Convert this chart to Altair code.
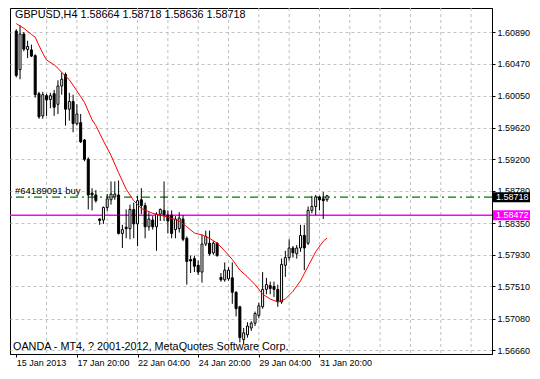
import altair as alt
import pandas as pd

# ---------------- data ----------------
bar_idx = list(range(83))
opens = [1.60907, 1.60394, 1.60868, 1.60663, 1.60657, 1.60580, 1.60074, 1.59779, 1.60048, 1.59997,
         1.60074, 1.59933, 1.60176, 1.60330, 1.59868, 1.59971, 1.59676, 1.59689, 1.59458, 1.59202,
         1.58753, 1.58727, 1.58407, 1.58394, 1.58561, 1.58663, 1.58702, 1.58727, 1.58215, 1.58298,
         1.58279, 1.58535, 1.58343, 1.58663, 1.58586, 1.58304, 1.58394, 1.58304, 1.58471, 1.58522,
         1.58458, 1.58458, 1.58266, 1.58279, 1.58407, 1.58151, 1.57868, 1.57881, 1.57792, 1.57702,
         1.58074, 1.58086, 1.57958, 1.58086, 1.57631, 1.57599, 1.57612, 1.57625, 1.57433, 1.57240,
         1.56804, 1.56868, 1.56958, 1.57022, 1.57125, 1.57240, 1.57471, 1.57522, 1.57510, 1.57471,
         1.57305, 1.57792, 1.57894, 1.58022, 1.57945, 1.58022, 1.58189, 1.58086, 1.58522, 1.58574,
         1.58702, 1.58676, 1.58664]
highs = [1.60932, 1.60984, 1.60894, 1.60779, 1.60727, 1.60599, 1.60099, 1.60099, 1.60074, 1.60086,
         1.60125, 1.60253, 1.60356, 1.60356, 1.60086, 1.60061, 1.59933, 1.59804, 1.59471, 1.59227,
         1.58817, 1.58792, 1.58420, 1.58574, 1.58740, 1.58907, 1.58907, 1.58920, 1.58330, 1.58535,
         1.58599, 1.58625, 1.58715, 1.58817, 1.58625, 1.58497, 1.58446, 1.58497, 1.58548, 1.58907,
         1.58522, 1.58522, 1.58446, 1.58497, 1.58458, 1.58176, 1.57920, 1.57920, 1.57856, 1.58202,
         1.58253, 1.58253, 1.58112, 1.58099, 1.57689, 1.57830, 1.57766, 1.57830, 1.57445, 1.57253,
         1.56958, 1.57035, 1.57048, 1.57176, 1.57292, 1.57702, 1.57625, 1.57574, 1.57574, 1.57535,
         1.57881, 1.57984, 1.58138, 1.58048, 1.58061, 1.58330, 1.58330, 1.58574, 1.58715, 1.58727,
         1.58715, 1.58766, 1.58718]
lows = [1.60291, 1.60266, 1.60638, 1.60548, 1.60561, 1.60022, 1.59740, 1.59740, 1.59779, 1.59881,
        1.59779, 1.59804, 1.60061, 1.59650, 1.59715, 1.59561, 1.59650, 1.59420, 1.59176, 1.58535,
        1.58522, 1.58625, 1.58330, 1.58343, 1.58510, 1.58599, 1.58663, 1.58202, 1.58022, 1.58151,
        1.58138, 1.58151, 1.58048, 1.58471, 1.58151, 1.58253, 1.58266, 1.57984, 1.58381, 1.58381,
        1.58215, 1.58151, 1.58151, 1.58227, 1.58112, 1.57535, 1.57689, 1.57702, 1.57663, 1.57561,
        1.58048, 1.57920, 1.57932, 1.57907, 1.57574, 1.57574, 1.57586, 1.57279, 1.57112, 1.56766,
        1.56740, 1.56830, 1.56920, 1.56984, 1.57087, 1.57215, 1.57407, 1.57407, 1.57369, 1.57240,
        1.57279, 1.57638, 1.57856, 1.57894, 1.57881, 1.57971, 1.57727, 1.58061, 1.58484, 1.58458,
        1.58522, 1.58407, 1.58636]
closes = [1.60317, 1.60868, 1.60667, 1.60702, 1.60574, 1.60061, 1.59766, 1.60061, 1.59990, 1.60048,
          1.59894, 1.60176, 1.60266, 1.59868, 1.59971, 1.59676, 1.59804, 1.59433, 1.59202, 1.58727,
          1.58727, 1.58651, 1.58388, 1.58561, 1.58676, 1.58740, 1.58740, 1.58215, 1.58266, 1.58279,
          1.58535, 1.58343, 1.58651, 1.58586, 1.58304, 1.58407, 1.58304, 1.58471, 1.58535, 1.58458,
          1.58381, 1.58215, 1.58407, 1.58420, 1.58138, 1.57843, 1.57849, 1.57779, 1.57702, 1.58074,
          1.58176, 1.57945, 1.58086, 1.57920, 1.57599, 1.57727, 1.57727, 1.57433, 1.57215, 1.56830,
          1.56894, 1.56984, 1.57022, 1.57151, 1.57253, 1.57471, 1.57535, 1.57484, 1.57471, 1.57305,
          1.57804, 1.57894, 1.58022, 1.57958, 1.58022, 1.58189, 1.58022, 1.58522, 1.58574, 1.58702,
          1.58663, 1.58651, 1.58718]

ma_idx = [0, 2, 4, 5, 6, 7, 8, 10, 11, 12, 14, 16, 17, 18, 20, 21, 23, 25, 27, 29, 31, 33, 36, 38,
          40, 43, 45, 47, 49, 51, 53, 55, 57, 59, 61, 63, 65, 67, 69, 71, 73, 75, 77, 79, 81, 82]
ma_val = [1.61006, 1.60945, 1.60862, 1.60826, 1.60715, 1.60612, 1.60522, 1.60458, 1.60413, 1.60356,
          1.60260, 1.60112, 1.60035, 1.59958, 1.59727, 1.59650, 1.59446, 1.59253, 1.59023, 1.58804,
          1.58651, 1.58548, 1.58484, 1.58458, 1.58433, 1.58381, 1.58304, 1.58221, 1.58195, 1.58151,
          1.58086, 1.57984, 1.57869, 1.57727, 1.57638, 1.57535, 1.57407, 1.57343, 1.57305, 1.57343,
          1.57445, 1.57586, 1.57779, 1.57971, 1.58112, 1.58155]

x_label_idx = [0, 16, 32, 48, 64, 80]
x_labels = ["15 Jan 2013", "17 Jan 20:00", "22 Jan 04:00", "24 Jan 20:00", "29 Jan 04:00", "31 Jan 20:00"]
x_grid_idx = list(range(8, 124, 8))
y_ticks = [1.60890, 1.60470, 1.60050, 1.59620, 1.59200, 1.58780, 1.58350, 1.57930, 1.57510, 1.57080, 1.56660]

header = "GBPUSD,H4  1.58664 1.58718 1.58636 1.58718"
order_label = "#64189091 buy"
copyright_text = "OANDA - MT4, ? 2001-2012, MetaQuotes Software Corp."
level_prices = [1.58698, 1.58458]
level_texts = ["1.58718", "1.58472"]
level_colors = ["#000000", "#ff00ff"]

# ---------------- chart ----------------
W, H = 482, 346
FONT = "Liberation Sans"

candles = pd.DataFrame({"i": bar_idx, "o": opens, "h": highs, "l": lows, "c": closes})
ma = pd.DataFrame({"i": ma_idx, "v": ma_val})
grid = pd.DataFrame({"g": x_grid_idx})
levels = pd.DataFrame({"p": level_prices, "t": level_texts, "col": level_colors})

xs = alt.Scale(domain=[-0.33, 124.2], nice=False, zero=False)
ys = alt.Scale(domain=[1.56612, 1.61214], nice=False, zero=False)

label_map = "{" + ",".join(f"'{i}':'{t}'" for i, t in zip(x_label_idx, x_labels)) + "}"
xaxis = alt.Axis(values=x_label_idx, labelExpr=label_map + "[''+datum.value]", title=None,
                 grid=False, labelAlign="left", labelBaseline="top", labelFont=FONT,
                 labelFontSize=9, labelColor="black", tickColor="black", tickSize=3,
                 labelPadding=1, domainColor="black", labelFlush=False, labelOverlap=False)
yaxis = alt.Axis(values=y_ticks, format=".5f", orient="right", title=None, grid=True,
                 gridColor="#c0c0c0", gridDash=[3, 3], labelFont=FONT, labelFontSize=9,
                 labelColor="black", tickColor="black", tickSize=3, labelPadding=2,
                 domainColor="black", labelFlush=False, labelOverlap=False)

X = lambda f: alt.X(f, scale=xs, axis=xaxis)
Y = lambda f: alt.Y(f, scale=ys, axis=yaxis)

vgrid = alt.Chart(grid).mark_rule(color="#c0c0c0", strokeDash=[3, 3], strokeWidth=1).encode(x=X("g:Q"))

magenta = alt.Chart(levels.iloc[[1]]).mark_rule(color="#ff00ff", strokeWidth=1.5).encode(y=Y("p:Q"))
green = alt.Chart(levels.iloc[[0]]).mark_rule(color="#007a00", strokeWidth=1.3,
                                              strokeDash=[8, 4, 2, 4]).encode(y=Y("p:Q"))

wicks = alt.Chart(candles).mark_rule(color="black", strokeWidth=1).encode(
    x=X("i:Q"), y=Y("l:Q"), y2="h:Q")
bodies = alt.Chart(candles).mark_bar(size=2, stroke="black", strokeWidth=1).encode(
    x=X("i:Q"), y=Y("o:Q"), y2="c:Q",
    fill=alt.condition("datum.c >= datum.o", alt.value("white"), alt.value("black")))

ma_line = alt.Chart(ma).mark_line(color="#ff0000", strokeWidth=1).encode(x=X("i:Q"), y=Y("v:Q"))

order_txt = alt.Chart(pd.DataFrame({"p": [level_prices[0]], "t": [order_label]})).mark_text(
    align="left", baseline="alphabetic", dy=-3, font=FONT, fontSize=9.5, color="black").encode(
    x=alt.value(5), y=Y("p:Q"), text="t:N")

head_txt = alt.Chart(pd.DataFrame({"t": [header]})).mark_text(
    align="left", baseline="alphabetic", font=FONT, fontSize=10.8, color="black").encode(
    x=alt.value(5), y=alt.value(10), text="t:N")

copy_txt = alt.Chart(pd.DataFrame({"t": [copyright_text]})).mark_text(
    align="left", baseline="alphabetic", font=FONT, fontSize=10.8, color="black").encode(
    x=alt.value(3), y=alt.value(H - 4), text="t:N")

boxes = alt.Chart(levels).mark_rect(yOffset=-5, y2Offset=5).encode(
    x=alt.value(W + 1), x2=alt.value(W + 38), y=Y("p:Q"), y2="p:Q",
    fill=alt.Color("col:N", scale=None))
box_txt = alt.Chart(levels).mark_text(align="left", baseline="middle", font=FONT, fontSize=9,
                                      color="white").encode(
    x=alt.value(W + 4), y=Y("p:Q"), text="t:N")

chart = alt.layer(vgrid, magenta, green, wicks, bodies, ma_line, order_txt, head_txt, copy_txt,
                  boxes, box_txt).properties(
    width=W, height=H,
    autosize=alt.AutoSizeParams(type="none"),
    padding={"left": 2, "top": 0, "right": 38, "bottom": 12},
    background="white",
).configure_view(stroke="black", strokeWidth=1)

chart.save("out.html", embed_options={"renderer": "svg", "actions": False})
